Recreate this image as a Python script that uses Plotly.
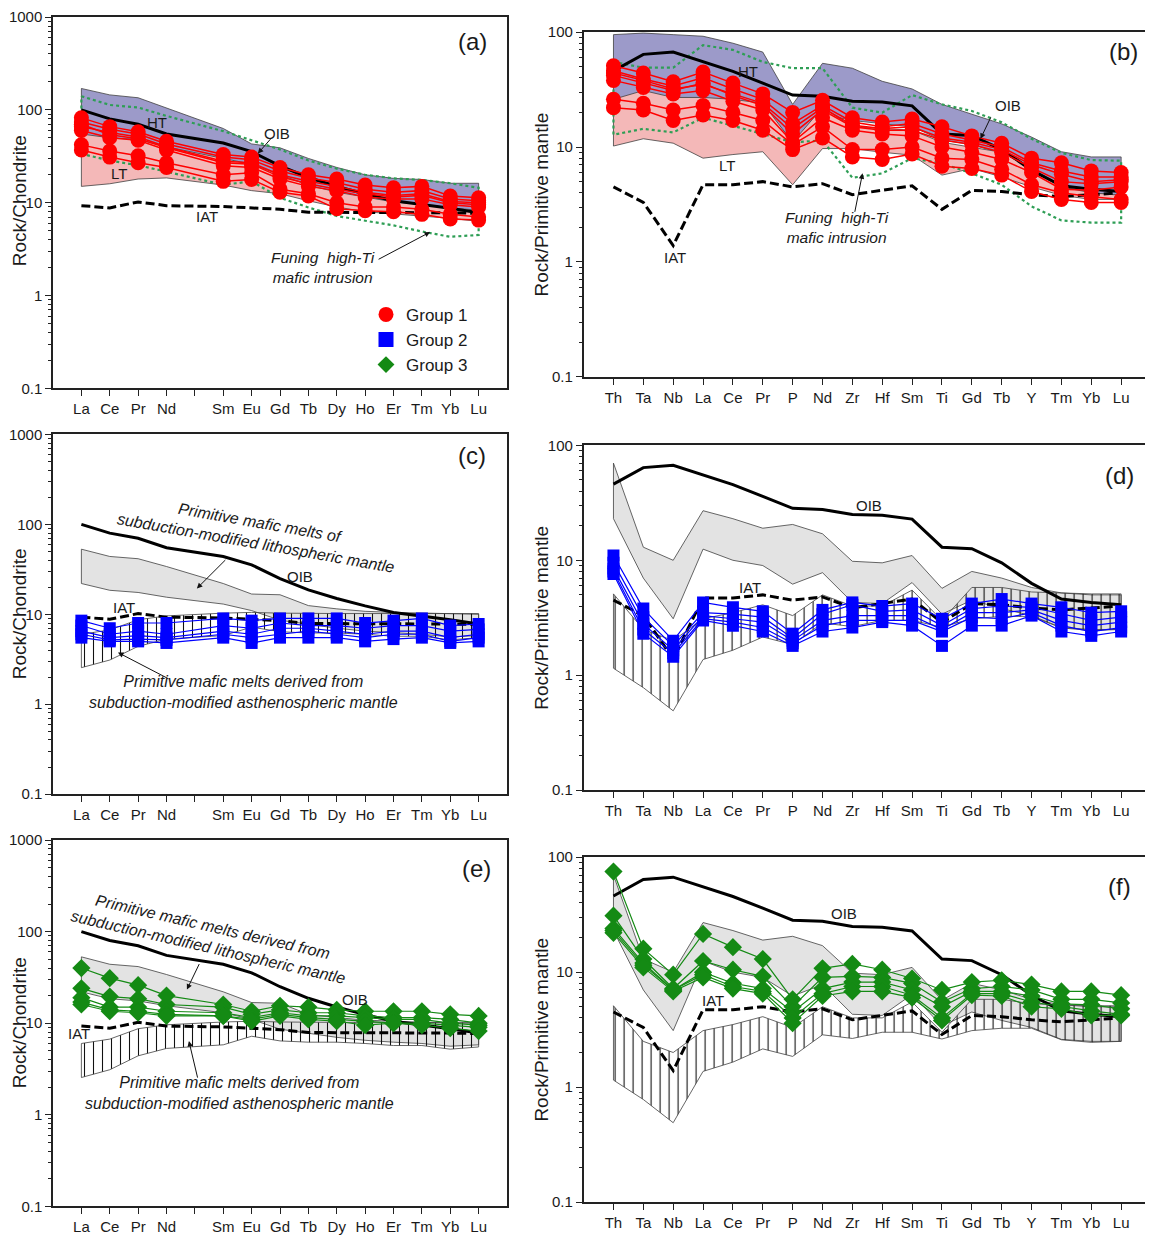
import math
import plotly.graph_objects as go

W, H = 1153, 1243
BODY = 8  # default page margin around the plot div
FW, FH = W - BODY, H - 2 * BODY

# ---------------- categories ----------------
REE_AXIS = ['La', 'Ce', 'Pr', 'Nd', 'Pm', 'Sm', 'Eu', 'Gd', 'Tb', 'Dy', 'Ho', 'Er', 'Tm', 'Yb', 'Lu']
REE = [e for e in REE_AXIS if e != 'Pm']
SPIDER = ['Th', 'Ta', 'Nb', 'La', 'Ce', 'Pr', 'P', 'Nd', 'Zr', 'Hf', 'Sm', 'Ti', 'Gd', 'Tb', 'Y', 'Tm', 'Yb', 'Lu']

# ---------------- reference patterns (chondrite normalised, REE order) ----------------
OIB_REE = [100, 80, 70, 55, 44, 35.5, 25, 18.7, 15, 12.4, 10.5, 9.6, 8.7, 7.8]
IAT_REE = [9.3, 8.8, 10.2, 9.3, 9.1, 8.8, 8.5, 7.9, 7.9, 7.9, 7.8, 7.8, 7.8, 7.7]
HT_REE_UP = [170, 145, 135, 105, 63, 43, 39, 30, 24, 20, 18.3, 17.8, 16.2, 16.2]
HT_REE_LO = [50, 46, 44, 37, 27, 24, 18, 14, 11.5, 10, 9, 8.6, 7.8, 7.6]
LT_REE_UP = [55, 50, 48, 40, 30, 26, 20, 15.5, 13, 11.5, 10.2, 9.6, 8.8, 8.3]
LT_REE_LO = [15, 16, 18, 18.5, 15.5, 13.5, 12.5, 10.5, 9, 8, 7.5, 7.2, 6.8, 6.3]
FUNING_REE_UP = [140, 113, 106, 86, 59, 47, 37.5, 28.5, 23.3, 20, 18.3, 17.6, 16.2, 14.5]
FUNING_REE_LO = [33.6, 28.5, 25.3, 21.6, 15.6, 17, 11.3, 8.9, 7.2, 6.4, 5.7, 4.9, 4.3, 4.5]
LITH_REE_UP = [53, 44, 41.5, 34, 22, 16.8, 16.5, 12.5, 11.5, 10.8, 10.5, 10.3, 10, 10]
LITH_REE_LO = [22, 18.5, 17.5, 15.5, 13, 11, 8.6, 7.8, 7, 6.5, 6.2, 6, 5.6, 5.8]
ASTH_REE_UP = [6, 6.7, 8.7, 9.6, 10.3, 10.5, 10.3, 10.2, 10.2, 10.2, 10.2, 10.2, 10.2, 10.2]
ASTH_REE_LO = [2.55, 3.1, 4.4, 5.3, 5.8, 7.2, 6.4, 6.2, 6.2, 6, 5.7, 5.7, 5.2, 5.5]

# ---------------- reference patterns (primitive mantle normalised, SPIDER order) ----------------
OIB_PM = [46, 64, 67, 55, 45.5, 36, 28.3, 27.7, 25, 24.6, 22.8, 13, 12.6, 9.5, 6.3, 4.6, 4.3, 4.1]
IAT_PM = [4.5, 3.3, 1.39, 4.7, 4.7, 5.0, 4.5, 4.8, 3.85, 4.2, 4.6, 2.87, 4.2, 4.1, 3.85, 3.7, 3.85, 4.0]
HT_PM_UP = [95, 98, 95, 92, 80, 67, 23.5, 53.5, 48.5, 37.3, 32, 23.5, 19.3, 15.9, 12.2, 9.1, 8.2, 8.2]
HT_PM_LO = [26, 27.7, 26.8, 26.8, 25, 23, 11, 19.3, 17, 16, 15, 11.5, 10.5, 8.8, 6.3, 4.5, 4, 3.8]
LT_PM_UP = [26, 31, 27, 27, 26, 24, 11, 22, 15, 14.5, 14, 11, 10, 9, 6.5, 4.5, 4, 3.8]
LT_PM_LO = [10.2, 11.8, 10.8, 8, 8.6, 9.1, 4.7, 9.7, 9.7, 9, 8.5, 5.7, 6.5, 5.5, 4.5, 3.8, 3.5, 3.5]
FUNING_PM_UP = [55, 49, 49, 77, 70, 55, 48.5, 48.5, 22, 19.9, 28.3, 23.5, 20.6, 16.4, 11.8, 8.9, 7.7, 7.6]
FUNING_PM_LO = [12.8, 14.4, 13.4, 18, 15.3, 13, 11, 11.4, 5.4, 5.9, 8, 7.2, 5.9, 4.7, 3.05, 2.3, 2.2, 2.2]
LITH_PM_UP = [70, 13, 10, 27, 23, 19, 20.5, 17, 9.8, 9.5, 11, 5.7, 8, 7, 5.8, 5.2, 5, 5]
LITH_PM_LO = [23, 7, 3.1, 12.5, 10, 9, 6.2, 7.8, 4.3, 4.2, 6.4, 3.4, 4.5, 3.8, 3.3, 2.6, 2.5, 2.5]
ASTH_PM_UP = [5.1, 2.5, 2.0, 3.1, 3.5, 4.1, 3.3, 5.0, 4.0, 4.0, 5.5, 3.0, 5.8, 5.8, 5.3, 5.2, 5.1, 5.1]
ASTH_PM_LO = [1.15, 0.78, 0.49, 1.37, 1.65, 2.15, 1.85, 2.85, 2.65, 3.0, 3.0, 2.62, 3.1, 3.25, 3.25, 2.58, 2.45, 2.5]

# ---------------- samples ----------------
G1_REE = [
    [82, 66, 58, 46, 33, 31, 24, 20, 18, 15.5, 14.5, 15, 11.8, 11.3],
    [74, 62, 55, 43, 31, 29, 22, 18.5, 16.5, 14, 13, 13.5, 11, 10.5],
    [66, 57, 51, 40, 28, 27, 20, 17, 15, 13, 12, 12.5, 10.3, 10],
    [60, 50, 47, 37, 25, 24, 18, 15, 13.5, 11.5, 11, 11, 9.5, 9],
    [70, 54, 49, 39, 27, 26, 19, 16, 14, 12.5, 11.5, 12, 10, 9.5],
    [42, 36, 32, 27, 20, 21, 14, 12.5, 10, 9, 9, 8.5, 7.5, 7],
    [37, 31, 27, 24, 17, 17.8, 13, 11.8, 8.6, 8.2, 8, 7.5, 6.7, 6.5],
]
G1_PM = [
    [51, 44, 37, 45, 36, 29, 20, 25.5, 18, 16.5, 17.5, 15, 12.5, 10.8, 8, 7.3, 6.2, 6],
    [46, 39, 34, 40, 32, 26, 16, 23, 16.5, 15, 16, 13, 11.5, 10, 7.3, 6.2, 5.5, 5.5],
    [42, 36, 31, 36, 28, 23, 13, 21, 15, 14, 14, 11.5, 10.5, 9, 6.6, 5, 4.8, 5],
    [38, 33, 29, 31, 25, 21, 11, 18, 14, 13, 12.5, 10, 9, 7.8, 6, 4.3, 4.2, 4.5],
    [44, 38, 32, 35, 29, 24, 14.5, 22, 15.5, 14.5, 15, 12, 11, 9.5, 7, 5.8, 5, 5.2],
    [26, 24, 21, 23, 20, 17, 10.5, 15, 9.5, 9.5, 10, 8, 7.8, 6.4, 4.7, 4, 3.7, 3.5],
    [22, 21, 17, 19, 17, 14, 9.5, 12, 8.2, 7.8, 8.7, 6.8, 6.5, 5.7, 4.1, 3.5, 3.3, 3.3],
]
G2_REE = [
    [8.5, 7, 8, 8, 9, 8.5, 9, 9, 9, 8, 8.5, 9, 7.5, 7.8],
    [7.5, 6, 6.5, 6, 7.5, 7, 8, 7.5, 7.5, 7, 7.5, 7.5, 6.5, 6.8],
    [6.5, 5.5, 5.8, 5.5, 6.5, 6, 7, 7, 6.5, 6, 6.5, 6.5, 5.5, 6],
    [6, 5.2, 5.3, 5.2, 6, 5.5, 6, 6.5, 6, 5.5, 6, 6, 5, 5.5],
    [5.5, 5, 5, 4.8, 5.5, 4.8, 5.5, 5.5, 5.5, 5, 5.3, 5.5, 4.8, 5],
]
G2_PM = [
    [11, 3.8, 2.0, 4.3, 3.9, 3.6, 2.3, 3.7, 4.3, 4.0, 4.2, 3.1, 4.2, 4.6, 4.2, 3.9, 3.5, 3.6],
    [9.5, 3.2, 1.8, 3.5, 3.4, 3.2, 2.1, 3.4, 4.1, 3.6, 3.7, 2.7, 3.8, 4.0, 3.9, 3.4, 3.0, 3.2],
    [8.5, 2.8, 1.65, 3.3, 3.1, 2.9, 2.0, 3.0, 3.3, 3.3, 3.3, 2.5, 3.5, 3.5, 3.7, 3.0, 2.7, 2.9],
    [8.0, 2.5, 1.55, 3.1, 2.9, 2.6, 1.9, 2.7, 3.0, 3.0, 3.0, 2.4, 3.2, 3.1, 3.5, 2.7, 2.4, 2.6],
    [7.6, 2.3, 1.45, 3.0, 2.7, 2.4, 1.8, 2.4, 2.6, 2.9, 2.7, 1.8, 2.7, 2.7, 3.3, 2.4, 2.2, 2.4],
]
G3_REE = [
    [40, 31, 26, 20, 16, 13.5, 15.5, 15, 14, 13.5, 13.5, 13.5, 12.5, 12],
    [24, 19.5, 18.5, 16, 15, 12.5, 14, 13, 13, 12, 11.5, 11.5, 11, 10],
    [19, 15, 15, 13.5, 13, 11.5, 13, 12, 12, 11.5, 11, 11, 10, 9.5],
    [17, 14, 13.5, 12.5, 12, 11, 12.5, 11.5, 11, 10.5, 10, 10, 9.5, 9],
    [16, 13.5, 13, 12, 12, 10.5, 12, 11, 10.5, 9.5, 10, 9.5, 8.8, 8.2],
]
G3_PM = [
    [75, 16, 9.5, 21.5, 16.5, 13, 5.8, 10.8, 11.8, 10.5, 8.8, 7, 8.2, 8.5, 7.8, 6.8, 6.8, 6.3],
    [31, 13, 7.2, 12.5, 10.5, 9.2, 5, 9, 9.2, 9, 8, 5.5, 7.2, 7.5, 7, 5.8, 5.8, 5.4],
    [24, 12, 7, 10, 8, 7.2, 4.5, 7.2, 8.2, 8.2, 7, 5, 6.8, 6.8, 6.2, 5.3, 5.2, 4.8],
    [23, 11.5, 7, 9.5, 7.5, 6.8, 4, 6.5, 7.5, 7.5, 6.3, 4, 6.5, 6.5, 5.5, 5, 4.6, 4.3],
    [22, 11, 6.8, 9, 7.2, 6.5, 3.6, 6.2, 6.8, 6.8, 6, 3.8, 6.3, 6.2, 5, 4.8, 4.2, 4.2],
]
GROUP_NAMES = ['Group 1', 'Group 2', 'Group 3']

# ---------------- styling ----------------
FONT = 'Liberation Sans, Arial, sans-serif'
TXT = '#1a1a1a'
RED, BLUE, GREEN = '#ff0000', '#0000ff', '#148a14'
PURPLE, PINK, GREY = '#9c9ac9', '#f4b8b8', '#e3e3e3'
OUTLINE = '#404040'
DOT_GREEN = '#2e9e55'

X_REE = [REE_AXIS.index(e) for e in REE]
X_PM = list(range(len(SPIDER)))


def px_x(px):
    return min(1.0, max(0.0, (px - BODY) / FW))


def px_y(py):
    return min(1.0, max(0.0, 1 - (py - BODY) / FH))


fig = go.Figure()

# panel geometry in window pixels: (left, right, top, bottom)
PANELS = {
    'a': (53, 507, 5, 385, 'ree'),
    'b': (583.6, 1151, 23.3, 373.3, 'pm'),
    'c': (53, 507, 431.7, 796.7, 'ree'),
    'd': (583.6, 1151, 442.7, 792.7, 'pm'),
    'e': (53, 507, 843.3, 1215, 'ree'),
    'f': (583.6, 1151, 860.7, 1210.7, 'pm'),
}
AX = {}
layout_axes = {}
for i, (key, (l, r, t, b, kind)) in enumerate(PANELS.items(), start=1):
    xa = 'x' if i == 1 else f'x{i}'
    ya = 'y' if i == 1 else f'y{i}'
    AX[key] = (xa, ya, kind)
    xname = 'xaxis' if i == 1 else f'xaxis{i}'
    yname = 'yaxis' if i == 1 else f'yaxis{i}'
    if kind == 'ree':
        xticks = list(range(len(REE_AXIS)))
        xtext = ['' if e == 'Pm' else e for e in REE_AXIS]
        xr = [-1, len(REE_AXIS)]
        yr = [-1, 3]
        yvals = [0.1, 1, 10, 100, 1000]
        ytext = ['0.1', '1', '10', '100', '1000']
        decades = [0.1, 1, 10, 100]
    else:
        xticks = list(range(len(SPIDER)))
        xtext = SPIDER
        xr = [-1, len(SPIDER)]
        yr = [-1, 2]
        yvals = [0.1, 1, 10, 100]
        ytext = ['0.1', '1', '10', '100']
        decades = [0.1, 1, 10]
    minor_vals = [d * k for d in decades for k in range(2, 10)]
    layout_axes[xname] = dict(
        domain=[px_x(l), px_x(r)], anchor=ya, range=xr, tickmode='array', tickvals=xticks,
        ticktext=xtext, ticks='outside', ticklen=6, tickwidth=1, tickcolor='#222',
        showline=True, linecolor='#222', linewidth=1.5, mirror=True, showgrid=False,
        zeroline=False, tickfont=dict(family=FONT, size=15, color=TXT),
    )
    layout_axes[yname] = dict(
        domain=[px_y(b), px_y(t)], anchor=xa, type='log', range=yr, tickmode='array',
        tickvals=yvals, ticktext=ytext, ticks='outside', ticklen=6, tickwidth=1,
        tickcolor='#222', showline=True, linecolor='#222', linewidth=1.5, mirror=True,
        showgrid=False, zeroline=False, tickfont=dict(family=FONT, size=15, color=TXT),
        minor=dict(tickmode='array', tickvals=minor_vals, ticks='outside', ticklen=3,
                   tickwidth=1, tickcolor='#222', showgrid=False),
    )


def closed(kind, up, lo):
    xs = X_REE if kind == 'ree' else X_PM
    return xs + xs[::-1] + [xs[0]], up + lo[::-1] + [up[0]]


def band(panel, up, lo, fill, line_color=OUTLINE, width=0.8, pattern=None):
    xa, ya, kind = AX[panel]
    x, y = closed(kind, up, lo)
    kw = dict(x=x, y=y, xaxis=xa, yaxis=ya, mode='lines', fill='toself', fillcolor=fill,
              line=dict(color=line_color, width=width), hoverinfo='skip', showlegend=False)
    if pattern:
        kw['fillpattern'] = pattern
    fig.add_trace(go.Scatter(**kw))


def outline(panel, up, lo, color, width, dash):
    xa, ya, kind = AX[panel]
    x, y = closed(kind, up, lo)
    fig.add_trace(go.Scatter(x=x, y=y, xaxis=xa, yaxis=ya, mode='lines',
                             line=dict(color=color, width=width, dash=dash),
                             hoverinfo='skip', showlegend=False))


def ref_line(panel, vals, dash):
    xa, ya, kind = AX[panel]
    xs = X_REE if kind == 'ree' else X_PM
    fig.add_trace(go.Scatter(x=xs, y=vals, xaxis=xa, yaxis=ya, mode='lines',
                             line=dict(color='#000000', width=3, dash=dash),
                             hoverinfo='skip', showlegend=False))


def samples(panel, data, color, symbol, size, lw):
    xa, ya, kind = AX[panel]
    xs = X_REE if kind == 'ree' else X_PM
    for s in data:
        fig.add_trace(go.Scatter(x=xs, y=s, xaxis=xa, yaxis=ya, mode='lines+markers',
                                 line=dict(color=color, width=lw),
                                 marker=dict(color=color, symbol=symbol, size=size, line=dict(width=0)),
                                 showlegend=False))


HATCH = dict(shape='|', size=9, solidity=0.12, fgcolor='#111111', bgcolor='rgba(0,0,0,0)', fillmode='replace')
IAT_DASH = '9px,4px'

# panel a
band('a', HT_REE_UP, HT_REE_LO, PURPLE)
band('a', LT_REE_UP, LT_REE_LO, PINK)
outline('a', FUNING_REE_UP, FUNING_REE_LO, DOT_GREEN, 2.2, 'dot')
ref_line('a', OIB_REE, 'solid')
ref_line('a', IAT_REE, IAT_DASH)
samples('a', G1_REE, RED, 'circle', 15, 1.5)

# panel b
band('b', HT_PM_UP, HT_PM_LO, PURPLE)
band('b', LT_PM_UP, LT_PM_LO, PINK)
outline('b', FUNING_PM_UP, FUNING_PM_LO, DOT_GREEN, 2.2, 'dot')
ref_line('b', OIB_PM, 'solid')
ref_line('b', IAT_PM, IAT_DASH)
samples('b', G1_PM, RED, 'circle', 15, 1.5)

# panel c
band('c', LITH_REE_UP, LITH_REE_LO, GREY)
band('c', ASTH_REE_UP, ASTH_REE_LO, 'rgba(0,0,0,0)', pattern=HATCH)
ref_line('c', OIB_REE, 'solid')
ref_line('c', IAT_REE, IAT_DASH)
samples('c', G2_REE, BLUE, 'square', 12, 1.2)

# panel d
band('d', LITH_PM_UP, LITH_PM_LO, GREY)
band('d', ASTH_PM_UP, ASTH_PM_LO, 'rgba(0,0,0,0)', pattern=HATCH)
ref_line('d', OIB_PM, 'solid')
ref_line('d', IAT_PM, IAT_DASH)
samples('d', G2_PM, BLUE, 'square', 12, 1.2)

# panel e
band('e', LITH_REE_UP, LITH_REE_LO, GREY)
band('e', ASTH_REE_UP, ASTH_REE_LO, 'rgba(0,0,0,0)', pattern=HATCH)
ref_line('e', OIB_REE, 'solid')
ref_line('e', IAT_REE, IAT_DASH)
samples('e', G3_REE, GREEN, 'diamond', 14, 1.2)

# panel f
band('f', LITH_PM_UP, LITH_PM_LO, GREY)
band('f', ASTH_PM_UP, ASTH_PM_LO, 'rgba(0,0,0,0)', pattern=HATCH)
ref_line('f', OIB_PM, 'solid')
ref_line('f', IAT_PM, IAT_DASH)
samples('f', G3_PM, GREEN, 'diamond', 14, 1.2)

# legend-only entries
for name, color, symbol in zip(GROUP_NAMES, [RED, BLUE, GREEN], ['circle', 'square', 'diamond']):
    fig.add_trace(go.Scatter(x=[None], y=[None], xaxis='x', yaxis='y', mode='markers', name=name,
                             marker=dict(color=color, symbol=symbol, size=15 if symbol != 'diamond' else 13)))

# ---------------- annotations ----------------
ann = []


def label(panel, x, ly, text, size=15, italic=False, angle=0, align='center'):
    xa, ya, _ = AX[panel]
    t = f'<i>{text}</i>' if italic else text
    ann.append(dict(x=x, y=ly, xref=xa, yref=ya, text=t, showarrow=False, textangle=angle,
                    xanchor='center', yanchor='middle',
                    align=align, font=dict(family=FONT, size=size, color=TXT)))


def arrow(panel, x, ly, ax, ay):
    xa, ya, _ = AX[panel]
    ann.append(dict(x=x, y=ly, xref=xa, yref=ya, text='', showarrow=True, ax=ax, ay=ay,
                    arrowhead=2, arrowsize=1.1, arrowwidth=1, arrowcolor='#111', standoff=0))


# (a)
label('a', 13.77, 2.737, '(a)', size=24)
label('a', 2.665, 1.867, 'HT')
label('a', 1.33, 1.316, 'LT')
label('a', 6.9, 1.75, 'OIB')
arrow('a', 6.22, 1.53, 14, -16)
label('a', 4.43, 0.849, 'IAT')
label('a', 8.52, 0.30, 'Funing  high-Ti<br>mafic intrusion', size=15.5, italic=True)
arrow('a', 12.29, 0.684, -53, 28)
# (b)
label('b', 17.08, 1.829, '(b)', size=24)
label('b', 4.5, 1.66, 'HT')
label('b', 3.8, 0.837, 'LT')
label('b', 13.2, 1.36, 'OIB')
arrow('b', 12.29, 1.071, 11, -23)
label('b', 2.06, 0.038, 'IAT')
label('b', 7.5, 0.30, 'Funing  high-Ti<br>mafic intrusion', size=15.5, italic=True)
arrow('b', 8.34, 0.771, -8, 40)
# (c)
label('c', 13.77, 2.767, '(c)', size=24)
label('c', 6.22, 1.901, 'Primitive mafic melts of<br>subduction-modified lithospheric mantle', size=16, italic=True, angle=10)
arrow('c', 4.07, 1.287, 30, -30)
label('c', 7.7, 1.418, 'OIB')
label('c', 1.5, 1.079, 'IAT')
label('c', 5.7, 0.136, 'Primitive mafic melts derived from<br>subduction-modified asthenospheric mantle', size=16, italic=True)
arrow('c', 1.29, 0.575, 52, 27)
# (d)
label('d', 16.94, 1.74, '(d)', size=24)
label('d', 8.57, 1.475, 'OIB')
label('d', 4.58, 0.766, 'IAT')
# (e)
label('e', 13.94, 2.69, '(e)', size=24)
label('e', 4.54, 1.945, 'Primitive mafic melts derived from<br>subduction-modified lithospheric mantle', size=16, italic=True, angle=13)
arrow('e', 3.72, 1.367, 13, -27)
label('e', 9.64, 1.26, 'OIB')
label('e', -0.08, 0.883, 'IAT')
label('e', 5.59, 0.237, 'Primitive mafic melts derived from<br>subduction-modified asthenospheric mantle', size=16, italic=True)
arrow('e', 3.79, 0.804, 9, 38)
# (f)
label('f', 16.94, 1.749, '(f)', size=24)
label('f', 7.71, 1.506, 'OIB')
label('f', 3.34, 0.757, 'IAT')

# y-axis titles
for key, title, xp in [('a', 'Rock/Chondrite', 19), ('c', 'Rock/Chondrite', 19), ('e', 'Rock/Chondrite', 19),
                       ('b', 'Rock/Primitive mantle', 542), ('d', 'Rock/Primitive mantle', 542),
                       ('f', 'Rock/Primitive mantle', 542)]:
    l, r, t, b, _ = PANELS[key]
    ann.append(dict(x=px_x(xp), y=px_y((t + b) / 2), xref='paper', yref='paper', text=title,
                    xanchor='center', yanchor='middle',
                    showarrow=False, textangle=-90, font=dict(family=FONT, size=19, color=TXT)))

fig.update_layout(
    width=FW, height=FH, margin=dict(l=0, r=0, t=0, b=0),
    paper_bgcolor='white', plot_bgcolor='white',
    annotations=ann,
    showlegend=True,
    legend=dict(x=px_x(366), y=px_y(292), xanchor='left', yanchor='top', bgcolor='rgba(0,0,0,0)',
                font=dict(family=FONT, size=17, color=TXT), tracegroupgap=0, itemsizing='trace'),
    **layout_axes,
)

fig.write_html('out.html', config={'displayModeBar': False})
